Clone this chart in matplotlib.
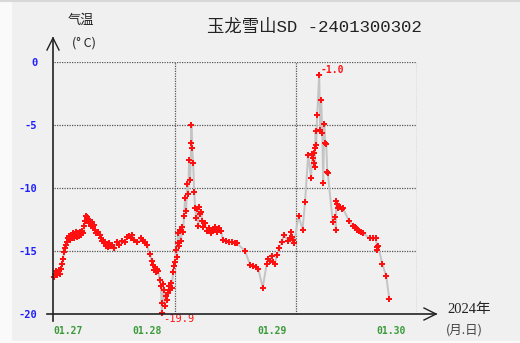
import matplotlib
matplotlib.use("Agg")
import matplotlib.pyplot as plt
import numpy as np

# Hours since 01.27 00:00 and air temperature (deg C)
hours = [
    0.0, 0.2, 0.4, 0.6, 0.8, 1.0, 1.2, 1.4, 1.6, 1.8, 2.0, 2.2, 2.4, 2.6, 2.8,
    3.0, 3.2, 3.4, 3.6, 3.8, 4.0, 4.2, 4.4, 4.6, 4.8, 5.0, 5.2, 5.4, 5.6, 5.8,
    6.0, 6.1, 6.3, 6.5, 6.7, 6.9, 7.1, 7.3, 7.5, 7.7, 7.9, 8.1, 8.3, 8.7, 9.1,
    9.3, 9.5, 9.7, 9.9, 10.1, 10.3, 10.5, 10.7, 10.9, 11.1, 11.5, 11.9, 12.5,
    12.9, 13.5, 14.1, 14.5, 14.9, 15.3, 15.5, 15.9, 16.5, 17.3, 17.7, 18.0,
    18.4, 19.0, 19.4, 19.6, 19.8, 20.0, 20.2, 20.4, 20.6, 21.0, 21.2, 21.4,
    21.5, 21.6, 21.8, 22.0, 22.2, 22.4, 22.6, 22.8, 23.0, 23.2, 23.4, 23.6,
    23.8, 24.0, 24.2, 24.4, 24.5, 24.6, 24.8, 25.0, 25.2, 25.4, 25.6, 25.8,
    26.0, 26.2, 26.4, 26.6, 26.8, 27.0, 27.2, 27.25, 27.4, 27.6, 27.8, 28.0,
    28.2, 28.4, 28.6, 28.8, 29.0, 29.2, 29.4, 29.6, 30.0, 30.3, 30.7, 31.1,
    31.5, 31.9, 32.3, 32.7, 33.1, 33.5, 34.1, 34.7, 35.3, 35.9, 36.3, 37.9,
    38.9, 39.5, 40.1, 40.5, 41.4, 42.2, 42.4, 42.8, 43.2, 43.4, 43.8, 44.2,
    44.6, 45.2, 45.6, 46.4, 46.8, 47.0, 47.3, 47.5, 47.6, 48.5, 49.3, 49.8,
    50.4, 51.0, 51.2, 51.4, 51.5, 51.6, 51.7, 51.8, 51.9, 52.0, 52.2, 52.6,
    52.8, 53.0, 53.2, 53.4, 53.6, 53.8, 54.0, 54.2, 54.3, 55.3, 55.7, 55.9,
    56.0, 56.1, 56.3, 56.7, 57.1, 57.3, 58.5, 59.3, 59.7, 59.9, 60.1, 60.5,
    60.9, 61.3, 62.7, 63.3, 63.9, 64.0, 64.1, 64.3, 65.1, 65.9, 66.5,
]
temps = [
    -17.1, -16.8, -16.6, -16.9, -16.7, -16.5, -16.8, -16.4, -16.0, -15.6, -15.1,
    -14.8, -14.5, -14.3, -14.0, -13.8, -14.1, -13.7, -13.9, -13.6, -14.0, -13.7,
    -13.5, -13.9, -13.6, -13.8, -13.5, -13.7, -13.4, -13.6, -13.0, -12.6, -12.2,
    -12.3, -12.5, -12.8, -12.6, -13.0, -12.7, -13.1, -12.9, -13.3, -13.6, -13.5,
    -13.7, -14.0, -14.2, -14.1, -14.4, -14.3, -14.6, -14.5, -14.7, -14.4, -14.6,
    -14.5, -14.8, -14.3, -14.5, -14.2, -14.3, -13.9, -13.8, -14.0, -13.7, -14.1,
    -14.3, -14.0, -14.2, -14.3, -14.5, -15.2, -15.8, -16.1, -16.5, -16.3, -16.7,
    -16.4, -16.6, -17.3, -17.8, -19.9, -19.1, -17.6, -18.1, -19.4, -18.6, -18.9,
    -18.3, -17.8, -18.1, -17.5, -17.9, -16.7, -16.2, -15.9, -14.9, -15.5, -14.4,
    -13.6, -14.6, -13.3, -14.2, -13.1, -13.5, -12.2, -10.8, -11.8, -9.7, -10.5,
    -7.8, -9.4, -6.4, -5.0, -6.8, -8.0, -10.3, -11.6, -12.4, -11.7, -13.0, -11.5,
    -12.1, -11.9, -12.6, -13.1, -12.8, -13.4, -13.2, -13.6, -13.3, -13.1, -13.5,
    -13.2, -13.4, -14.1, -14.2, -14.3, -14.3, -14.4, -14.4, -15.0, -16.1, -16.2,
    -16.3, -16.4, -17.9, -16.0, -15.6, -15.8, -15.4, -15.9, -16.0, -15.3, -14.8,
    -14.3, -13.7, -14.2, -14.0, -13.5, -13.9, -14.1, -14.4, -12.2, -13.3, -11.1,
    -7.4, -9.2, -7.3, -7.6, -8.0, -7.2, -8.3, -6.8, -5.5, -6.6, -4.2, -1.0,
    -5.4, -3.0, -5.6, -9.6, -4.9, -6.4, -6.5, -8.7, -8.8, -12.7, -12.3, -13.3,
    -11.0, -11.3, -11.6, -11.5, -11.7, -11.6, -12.6, -13.0, -13.1, -13.2, -13.3,
    -13.4, -13.5, -13.6, -14.0, -14.0, -14.0, -14.7, -14.9, -14.6, -16.0, -17.0,
    -18.8,
]

y_ticks = [0, -5, -10, -15, -20]
day_lines = [24, 48, 72]
date_pos = [2.8, 18.4, 43.2, 66.8]
date_labels = ["01.27", "01.28", "01.29", "01.30"]
title = "玉龙雪山SD -2401300302"

W, H = 520, 343
bg = "#f0f0f0"
fig = plt.figure(figsize=(W / 100, H / 100), dpi=100, facecolor=bg)

x0, x1, y0, y1 = 54, 417, 62, 314
ax = fig.add_axes([x0 / W, 1 - y1 / H, (x1 - x0) / W, (y1 - y0) / H])
ax.set_facecolor(bg)
ax.set_xlim(0, 72)
ax.set_ylim(-20, 0)
for s in ax.spines.values():
    s.set_visible(False)

grid_kw = dict(color="#555555", lw=0.9, ls=(0, (1, 1)), zorder=1)
for v in y_ticks:
    if v > -20:
        ax.axhline(v, **grid_kw)
for d in day_lines:
    ax.axvline(d, **grid_kw)

ax.plot(hours, temps, color="#c4c4c4", lw=1.4, zorder=2)
ax.plot(hours, temps, ls="none", marker="P", ms=3.9, mfc="#ff1010",
        mec="#ff1010", mew=0, zorder=3, clip_on=False)

mono = ["DejaVu Sans Mono"]
ax.set_yticks(y_ticks)
ax.set_yticklabels([str(v) for v in y_ticks], color="#2020ff",
                   family=mono, fontweight="bold", fontsize=7.5)
ax.set_xticks(date_pos)
ax.set_xticklabels(date_labels, color="#3a9a3a", family=mono,
                   fontweight="bold", fontsize=7)
ax.tick_params(axis="y", length=0, pad=12)
ax.tick_params(axis="x", length=0, pad=9)

# extreme value labels
t = np.array(temps)
h = np.array(hours)
imax, imin = int(t.argmax()), int(t.argmin())
ax.annotate(f"{t[imax]:.1f}", (h[imax], t[imax]), xytext=(1, 0),
            textcoords="offset points", color="#ff1010", family=mono,
            fontweight="bold", fontsize=7, ha="left", va="bottom")
ax.annotate(f"{t[imin]:.1f}", (h[imin], t[imin]), xytext=(1, -1),
            textcoords="offset points", color="#ff1010", family=mono,
            fontsize=7.5, ha="left", va="top", annotation_clip=False)

# overlay in pixel units for arrows and captions
ov = fig.add_axes([0, 0, 1, 1], facecolor="none")
ov.set_xlim(0, W)
ov.set_ylim(H, 0)
ov.axis("off")
ov.add_patch(plt.Rectangle((0, 0), 11, H, color="#fafafa", zorder=0))
ov.add_patch(plt.Rectangle((0, 341), W, 3, color="#fafafa", zorder=0))
ov.plot([0, W], [1, 1], color="#d8d8d8", lw=1.5)
ov.plot([53, 53], [321, 38], color="#222222", lw=1.2)
ov.plot([47, 436], [314, 314], color="#222222", lw=1.2)
ov.plot([47, 53, 59], [50, 38, 50], color="#222222", lw=1.0)
ov.plot([424, 436, 424], [308, 314, 320], color="#222222", lw=1.0)

cjk = ["Noto Sans CJK SC", "DejaVu Sans"]
ov.text(314, 27, title, ha="center", va="center", fontsize=12.5,
        family=["Liberation Mono", "Noto Sans CJK SC"], color="#222222")
ov.text(81, 20, "气温", ha="center", va="center", fontsize=9.5, family=cjk,
        color="#222222")
ov.text(84, 43, "(° C)", ha="center", va="center", fontsize=9, family=cjk,
        color="#222222")
ov.text(447, 310, "2024年", ha="left", va="center", fontsize=10.5,
        family=["Liberation Serif", "Noto Sans CJK SC"], color="#222222")
ov.text(446, 330, "(月.日)", ha="left", va="center", fontsize=9, family=cjk,
        color="#444444")

fig.savefig("out.png", dpi=100, facecolor=bg)
